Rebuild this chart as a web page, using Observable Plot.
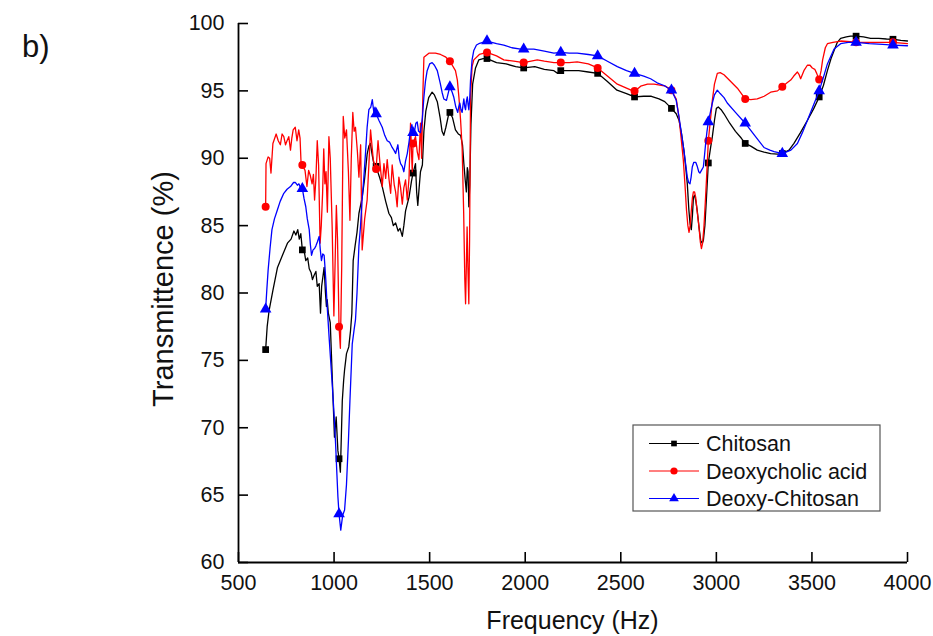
<!DOCTYPE html>
<html><head><meta charset="utf-8">
<script src="https://cdn.jsdelivr.net/npm/d3@7"></script>
<script src="https://cdn.jsdelivr.net/npm/@observablehq/plot@0.6"></script>
<style>
body{margin:0;background:#fff;}
#wrap{position:relative;width:933px;height:636px;overflow:hidden;background:#fff;}
</style></head><body><div id="wrap"></div>
<script>
const xTicks = [500,1000,1500,2000,2500,3000,3500,4000];
const yTicks = [60,65,70,75,80,85,90,95,100];
const seriesNames = ["Chitosan","Deoxycholic acid","Deoxy-Chitosan"];
const markerFreq = [642,834,1026,1220,1413,1606,1800,1992,2186,2379,2572,2765,2958,3151,3345,3538,3731,3924];
const chitosanMarks = [75.8,83.2,67.7,89.4,88.9,93.4,97.4,96.7,96.5,96.3,94.55,93.7,89.65,91.1,90.35,94.55,99.06,98.83];
const deoxycholicMarks = [86.4,89.5,77.5,89.2,91.1,97.2,97.85,97.1,97.1,96.7,95.0,95.05,91.3,94.4,95.3,95.85,98.6,98.6];
const deoxyChitosanMarks = [78.8,87.75,63.6,93.3,91.9,95.3,98.7,98.1,97.85,97.6,96.3,95.05,92.7,92.6,90.35,95.0,98.6,98.4];

const chitosan = [[642,75.8],[650,77.5],[660,78.7],[680,80.2],[704,81.9],[730,82.8],[756,83.7],[775,84.0],[790,84.6],[800,84.3],[810,84.7],[818,84.0],[826,84.4],[834,83.2],[845,83.0],[852,82.4],[862,82.6],[870,81.8],[880,81.5],[887,81.0],[895,81.3],[905,81.6],[912,80.5],[922,80.7],[929,78.5],[935,80.5],[948,81.9],[955,80.0],[960,79.0],[964,79.5],[970,78.5],[980,77.8],[993,72.8],[1002,69.3],[1011,70.8],[1020,68.3],[1026,67.7],[1033,66.7],[1043,72.0],[1050,73.5],[1055,74.3],[1065,75.5],[1077,76.0],[1086,77.2],[1093,78.5],[1100,82.4],[1110,83.5],[1120,84.5],[1130,85.9],[1140,86.6],[1147,87.1],[1160,88.5],[1173,90.3],[1182,90.9],[1190,91.1],[1200,90.2],[1208,89.6],[1220,89.4],[1226,89.1],[1240,88.5],[1252,87.9],[1270,86.8],[1287,85.9],[1300,85.6],[1310,85.0],[1322,85.2],[1335,84.6],[1345,84.8],[1357,84.2],[1365,85.0],[1374,86.1],[1392,87.1],[1405,88.3],[1413,88.9],[1426,89.6],[1432,87.5],[1438,86.5],[1445,87.8],[1452,89.0],[1462,89.5],[1470,92.0],[1480,93.5],[1495,94.5],[1513,94.9],[1525,94.7],[1540,94.2],[1555,93.0],[1565,92.0],[1574,91.7],[1585,92.3],[1600,93.3],[1606,93.4],[1620,93.0],[1635,92.1],[1650,91.8],[1662,91.7],[1672,91.0],[1679,89.6],[1686,88.4],[1692,87.5],[1697,89.3],[1701,89.0],[1705,86.4],[1710,88.0],[1716,92.5],[1725,95.5],[1740,96.7],[1757,97.3],[1780,97.4],[1800,97.4],[1850,97.1],[1900,97.0],[1950,96.8],[1992,96.7],[2050,96.8],[2100,96.6],[2150,96.5],[2170,96.3],[2186,96.5],[2230,96.5],[2280,96.5],[2330,96.4],[2379,96.3],[2430,95.7],[2480,95.05],[2530,94.8],[2572,94.55],[2620,94.6],[2660,94.6],[2700,94.4],[2730,94.2],[2765,93.7],[2790,93.3],[2805,92.8],[2818,91.8],[2830,90.6],[2840,89.3],[2848,88.1],[2856,86.2],[2862,85.2],[2869,84.7],[2875,85.8],[2880,87.1],[2886,87.25],[2893,86.8],[2900,86.1],[2910,84.8],[2918,83.9],[2926,83.7],[2932,83.9],[2940,85.0],[2948,87.0],[2958,89.65],[2970,90.8],[2979,91.6],[2990,92.8],[3000,93.7],[3010,93.8],[3025,93.6],[3040,93.3],[3070,92.6],[3100,92.0],[3130,91.5],[3151,91.1],[3180,90.9],[3214,90.6],[3250,90.45],[3284,90.35],[3320,90.3],[3345,90.35],[3380,90.6],[3406,91.1],[3440,91.9],[3476,92.8],[3510,93.7],[3538,94.55],[3560,95.4],[3581,96.5],[3600,97.4],[3616,98.0],[3633,98.6],[3650,98.9],[3680,99.0],[3702,99.06],[3731,99.06],[3770,99.0],[3807,98.9],[3850,98.9],[3890,98.85],[3924,98.83],[3965,98.75],[4000,98.7]];

const deoxycholic = [[642,86.4],[644,89.6],[655,90.1],[663,90.0],[670,88.9],[680,91.1],[697,91.8],[708,91.3],[719,91.0],[728,91.8],[737,91.6],[746,91.0],[754,91.3],[763,91.6],[772,90.6],[779,91.5],[786,92.1],[797,92.3],[806,91.3],[815,92.1],[822,91.5],[828,89.4],[834,89.5],[848,89.1],[858,87.9],[867,89.1],[876,88.7],[885,88.1],[892,88.8],[898,86.9],[905,88.5],[912,91.3],[919,89.5],[927,83.7],[933,85.0],[940,87.4],[946,90.7],[952,88.1],[958,89.0],[965,86.0],[973,91.6],[980,90.0],[990,84.9],[999,78.3],[1005,82.0],[1012,86.5],[1018,84.0],[1023,80.0],[1026,77.5],[1033,75.9],[1040,82.0],[1048,93.1],[1056,91.5],[1065,92.1],[1075,89.0],[1083,85.4],[1090,90.0],[1098,93.4],[1105,92.0],[1112,92.3],[1122,90.5],[1130,88.6],[1139,91.0],[1147,83.2],[1160,85.5],[1173,86.9],[1182,89.5],[1191,92.1],[1198,91.0],[1205,89.9],[1212,89.5],[1220,89.2],[1230,91.3],[1241,89.5],[1252,87.9],[1261,89.6],[1270,88.5],[1278,89.9],[1287,88.5],[1296,87.4],[1304,89.5],[1315,88.0],[1322,87.5],[1330,86.4],[1339,88.6],[1348,87.8],[1357,86.6],[1365,87.8],[1374,88.4],[1383,86.9],[1392,88.5],[1400,92.6],[1405,90.5],[1409,89.0],[1413,91.1],[1426,91.6],[1435,90.5],[1444,89.9],[1452,92.6],[1458,90.0],[1465,95.0],[1470,97.5],[1496,97.8],[1530,97.8],[1557,97.7],[1585,97.5],[1606,97.2],[1635,96.5],[1645,95.8],[1653,94.55],[1662,92.8],[1670,90.8],[1678,86.0],[1684,81.0],[1688,79.2],[1692,82.0],[1696,84.9],[1700,82.0],[1705,79.2],[1709,84.0],[1714,94.55],[1722,96.8],[1731,97.3],[1760,97.7],[1800,97.85],[1850,97.6],[1888,97.3],[1940,97.2],[1992,97.1],[2063,97.3],[2100,97.2],[2150,97.1],[2186,97.1],[2230,97.1],[2272,97.15],[2330,97.0],[2379,96.7],[2430,96.1],[2482,95.5],[2530,95.2],[2572,94.95],[2604,95.35],[2640,95.5],[2674,95.5],[2735,95.35],[2765,95.05],[2790,94.4],[2804,93.1],[2815,91.6],[2827,89.9],[2836,88.0],[2844,86.1],[2851,85.0],[2857,84.5],[2863,85.0],[2869,86.1],[2875,87.1],[2880,87.5],[2886,87.5],[2892,87.1],[2900,86.0],[2909,84.9],[2916,83.8],[2922,83.3],[2928,83.7],[2935,84.9],[2942,86.7],[2949,88.6],[2958,91.3],[2970,93.0],[2979,94.3],[2990,95.5],[3005,96.3],[3020,96.35],[3040,96.2],[3075,95.7],[3110,95.2],[3151,94.4],[3180,94.35],[3214,94.4],[3250,94.6],[3284,94.9],[3320,95.0],[3345,95.3],[3370,95.6],[3389,95.8],[3405,96.1],[3424,96.4],[3433,96.2],[3441,95.9],[3458,96.5],[3476,96.9],[3490,96.9],[3502,96.7],[3515,96.6],[3525,96.3],[3533,96.0],[3538,95.85],[3548,96.5],[3556,97.3],[3570,98.2],[3581,98.5],[3610,98.6],[3650,98.7],[3700,98.65],[3731,98.6],[3800,98.6],[3870,98.6],[3924,98.6],[4000,98.5]];

const deoxyChitosan = [[642,78.8],[648,80.2],[655,81.7],[665,83.3],[675,84.7],[688,85.5],[702,86.1],[718,86.8],[737,87.4],[754,87.7],[772,87.9],[788,88.2],[798,88.2],[808,88.0],[816,88.1],[825,87.8],[834,87.75],[843,87.0],[852,86.4],[860,85.5],[870,84.7],[876,83.6],[882,82.8],[890,83.2],[898,83.3],[905,83.5],[913,83.8],[922,84.2],[928,83.2],[934,82.4],[941,82.9],[948,82.8],[953,81.8],[957,80.9],[964,79.0],[975,76.5],[990,73.3],[1000,71.0],[1008,68.8],[1015,66.5],[1020,64.9],[1026,63.6],[1035,62.4],[1045,63.5],[1055,63.9],[1065,65.8],[1075,69.0],[1083,72.0],[1095,76.2],[1105,77.3],[1112,78.0],[1120,80.0],[1130,83.5],[1138,84.9],[1147,87.0],[1156,88.6],[1165,90.5],[1173,92.3],[1182,93.6],[1192,93.8],[1200,94.35],[1208,93.4],[1214,93.8],[1220,93.3],[1235,92.8],[1252,92.3],[1265,91.7],[1278,91.3],[1290,91.2],[1304,90.8],[1313,90.6],[1322,90.35],[1334,91.0],[1341,90.0],[1348,89.6],[1357,89.4],[1365,89.0],[1374,89.8],[1383,90.35],[1392,91.2],[1400,92.1],[1407,92.5],[1413,91.9],[1422,92.1],[1428,92.6],[1435,92.7],[1442,92.0],[1452,91.9],[1462,93.0],[1470,94.55],[1478,95.7],[1487,96.5],[1500,97.0],[1513,97.1],[1525,96.9],[1540,96.5],[1555,95.6],[1565,94.9],[1574,94.4],[1588,94.3],[1600,95.0],[1606,95.3],[1618,94.9],[1626,94.55],[1637,93.8],[1647,93.4],[1652,93.8],[1658,94.1],[1664,93.6],[1670,93.4],[1675,94.0],[1679,94.4],[1684,93.8],[1688,93.6],[1692,94.2],[1697,94.55],[1701,94.0],[1705,93.6],[1710,94.5],[1714,95.8],[1722,97.3],[1731,98.0],[1745,98.4],[1757,98.5],[1800,98.7],[1850,98.5],[1888,98.4],[1930,98.2],[1976,98.1],[1992,98.1],[2045,98.1],[2100,97.95],[2150,97.8],[2186,97.85],[2230,97.8],[2272,97.8],[2330,97.7],[2379,97.6],[2430,97.2],[2482,96.8],[2530,96.5],[2572,96.3],[2620,96.1],[2656,95.9],[2690,95.6],[2726,95.4],[2765,95.05],[2790,94.3],[2804,93.1],[2818,91.8],[2830,90.6],[2840,89.5],[2848,88.6],[2855,88.2],[2862,88.1],[2868,88.6],[2874,89.35],[2882,89.7],[2892,89.7],[2900,89.4],[2908,89.0],[2914,88.9],[2922,89.1],[2932,89.35],[2938,90.2],[2944,91.1],[2951,92.0],[2958,92.7],[2970,93.5],[2979,94.1],[2990,94.7],[3005,95.05],[3020,94.8],[3040,94.5],[3057,94.1],[3100,93.4],[3151,92.6],[3200,91.7],[3249,90.8],[3280,90.6],[3302,90.5],[3330,90.4],[3345,90.35],[3390,90.6],[3424,91.1],[3450,91.9],[3476,92.8],[3510,94.0],[3538,95.0],[3560,96.0],[3581,97.0],[3600,97.6],[3616,98.1],[3650,98.5],[3690,98.6],[3731,98.6],[3800,98.5],[3870,98.45],[3924,98.4],[4000,98.35]];

const seriesColors = ["#000000","#ff0000","#0000ff"];
const seriesSymbols = ["square","circle","triangle"];
const seriesData = [chitosan, deoxycholic, deoxyChitosan];
const seriesMarks = [chitosanMarks, deoxycholicMarks, deoxyChitosanMarks];

const W = 933, H = 636, mL = 238, mR = 26, mT = 23, mB = 74;
const frameW = W - mL - mR, frameH = H - mT - mB;
const FONT = "Arial, 'Liberation Sans', Helvetica, sans-serif";

const seriesMarksList = seriesNames.flatMap((name, i) => {
  const line = seriesData[i].map(([f, v]) => ({f, v}));
  const pts = markerFreq.map((f, k) => ({f, v: seriesMarks[i][k]}));
  return [
    Plot.line(line, {x: "f", y: "v", stroke: seriesColors[i], strokeWidth: 1.3, curve: "linear"}),
    Plot.dot(pts, {x: "f", y: "v", fill: seriesColors[i], stroke: "none", symbol: seriesSymbols[i], r: seriesSymbols[i] === "triangle" ? 4.3 : (seriesSymbols[i] === "square" ? 3.8 : 4)})
  ];
});

const chart = Plot.plot({
  width: W, height: H,
  marginLeft: mL, marginRight: mR, marginTop: mT, marginBottom: mB,
  style: {fontFamily: FONT, color: "#000", background: "#fff", overflow: "visible"},
  x: {domain: [500, 4000]},
  y: {domain: [60, 100]},
  marks: [
    ...seriesMarksList,
    Plot.ruleX([500], {stroke: "#000", strokeWidth: 1.8}),
    Plot.ruleY([60], {stroke: "#000", strokeWidth: 1.8}),
    Plot.tickX(xTicks, {x: d => d, insetTop: frameH - 10, stroke: "#000", strokeWidth: 1.6}),
    Plot.tickY(yTicks, {y: d => d, insetRight: frameW - 10, stroke: "#000", strokeWidth: 1.6}),
    Plot.axisX(xTicks, {tickSize: 0, tickPadding: 12, fontSize: 21.5, label: null, fill: "#111", tickFormat: d => String(d)}),
    Plot.axisY(yTicks, {tickSize: 0, tickPadding: 14, fontSize: 21.5, label: null, fill: "#111", tickFormat: d => String(d)})
  ]
});

const svg = d3.select(chart);
// Axis titles
svg.append("text").attr("x", mL + frameW / 2).attr("y", 629).attr("text-anchor", "middle")
  .attr("font-family", FONT).attr("font-size", 25).attr("fill", "#111").text("Frequency (Hz)");
svg.append("text").attr("transform", "translate(173,289) rotate(-90)").attr("text-anchor", "middle")
  .attr("font-family", FONT).attr("font-size", 29).attr("fill", "#111").text("Transmittence (%)");
svg.append("text").attr("x", 22).attr("y", 57).attr("text-anchor", "start").attr("font-family", FONT).attr("font-size", 31)
  .attr("fill", "#111").text("b)");

// Legend
const lg = svg.append("g");
lg.append("rect").attr("x", 633).attr("y", 425).attr("width", 247).attr("height", 86)
  .attr("fill", "#fff").attr("stroke", "#555").attr("stroke-width", 1.2);
seriesNames.forEach((name, i) => {
  const yy = 443.5 + i * 27.5;
  lg.append("line").attr("x1", 649).attr("x2", 699).attr("y1", yy).attr("y2", yy)
    .attr("stroke", seriesColors[i]).attr("stroke-width", 1.2);
  const sym = {square: d3.symbolSquare, circle: d3.symbolCircle, triangle: d3.symbolTriangle}[seriesSymbols[i]];
  const rr = seriesSymbols[i] === "square" ? 3.2 : 3.6;
  lg.append("path").attr("transform", `translate(674,${yy})`)
    .attr("d", d3.symbol(sym, Math.PI * rr * rr)()).attr("fill", seriesColors[i]);
  lg.append("text").attr("x", 706).attr("y", yy).attr("dy", "0.36em").attr("text-anchor", "start")
    .attr("font-family", FONT).attr("font-size", 21.5).attr("fill", "#111").text(name);
});

document.getElementById("wrap").appendChild(chart);
</script></body></html>
